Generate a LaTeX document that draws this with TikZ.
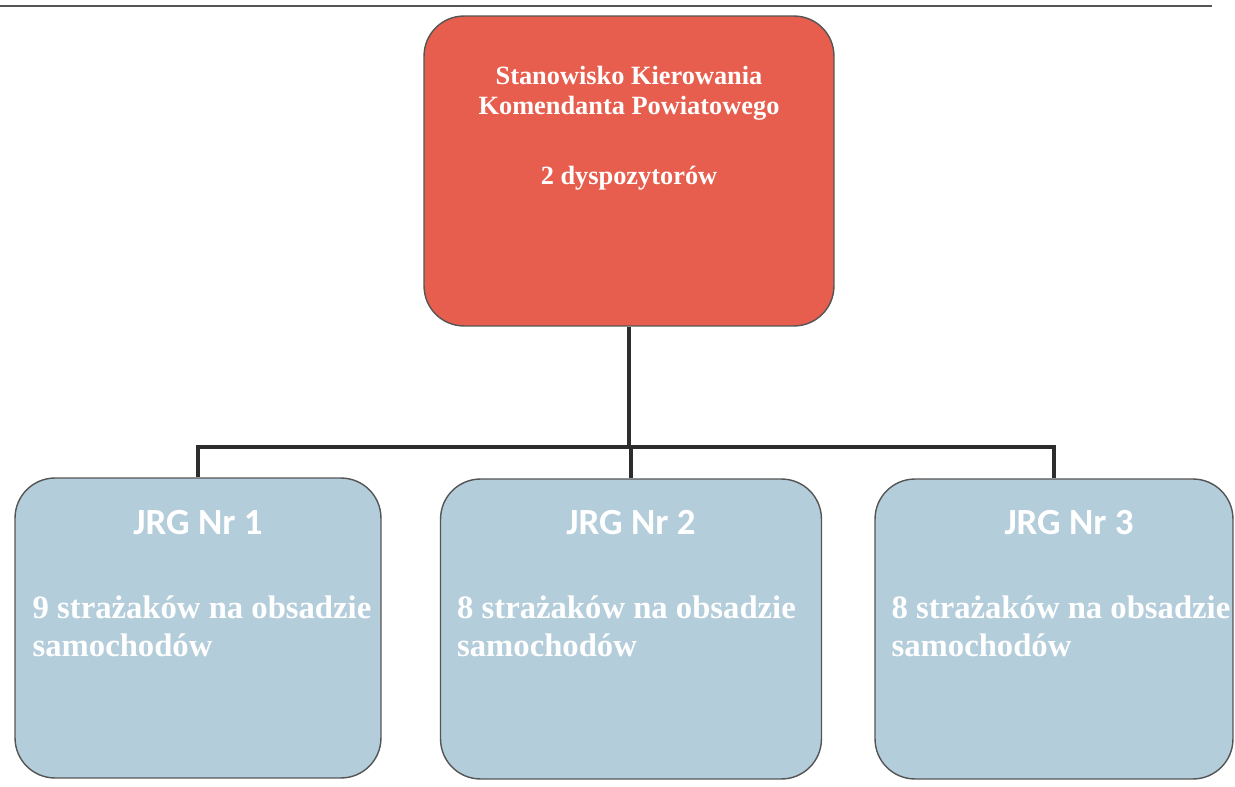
\documentclass[tikz,border=0pt]{standalone}
\usepackage{fontspec}
\setmainfont{Liberation Serif}
\newfontfamily\calibrifont{Carlito}
\usepackage{tikz}
\usetikzlibrary{calc}

\definecolor{chiefred}{RGB}{231,94,78}
\definecolor{unitblue}{RGB}{180,205,219}
\definecolor{edgegray}{RGB}{85,85,85}
\definecolor{linkgray}{RGB}{45,45,45}

\tikzset{
  chiefbox/.style={draw=edgegray, line width=0.8pt, fill=chiefred, rounded corners=0.8cm,
    minimum width=8.2cm, minimum height=6.2cm, inner sep=0pt},
  unitbox/.style={draw=edgegray, line width=0.8pt, fill=unitblue, rounded corners=0.8cm,
    minimum height=6cm, inner sep=0pt},
  chieftext/.style={text=white, align=center, inner sep=0pt,
    font=\fontsize{15}{17}\selectfont\bfseries},
  unittitle/.style={text=white, inner sep=0pt,
    font=\fontsize{21}{25}\calibrifont\bfseries},
  unitnote/.style={text=white, align=left, inner sep=0pt, anchor=west,
    font=\fontsize{18.6}{21.6}\selectfont\bfseries},
  link/.style={line width=2.3pt, draw=linkgray}
}

\begin{document}
\begin{tikzpicture}[x=0.02cm, y=-0.02cm]
    \useasboundingbox (0,0) rectangle (1235,787);
    % rule at the top of the page
    \draw[line width=1.2pt, edgegray] (0,6) -- (1212,6);
    % boxes
    \node[chiefbox] (chief) at (629,171) {};
    \node[unitbox, minimum width=7.32cm] (jrg1) at (198,628) {};
    \node[unitbox, minimum width=7.62cm] (jrg2) at (631,629) {};
    \node[unitbox, minimum width=7.16cm] (jrg3) at (1054,629) {};
    % connectors
    \coordinate (bus) at (629,447);
    \draw[link] (chief.south) -- (bus);
    \foreach \u in {jrg1,jrg2,jrg3}
        \draw[link] (bus) -| (\u.north);
    % texts
    \node[chieftext] (chieftitle) at (629,93) {Stanowisko Kierowania\\Komendanta Powiatowego};
    \node[chieftext] (chiefstaff) at (629,178) {2 dyspozytorów};
    \node[unittitle] (jrg1title) at (198,523) {JRG Nr 1};
    \node[unittitle] (jrg2title) at (631,523) {JRG Nr 2};
    \node[unittitle] (jrg3title) at (1069,523) {JRG Nr 3};
    \node[unitnote] (jrg1staff) at ($(jrg1.west)+(18,-2)$) {9 strażaków na obsadzie\\samochodów};
    \node[unitnote] (jrg2staff) at ($(jrg2.west)+(17,-3)$) {8 strażaków na obsadzie\\samochodów};
    \node[unitnote] (jrg3staff) at ($(jrg3.west)+(17,-3)$) {8 strażaków na obsadzie\\samochodów};
\end{tikzpicture}
\end{document}
